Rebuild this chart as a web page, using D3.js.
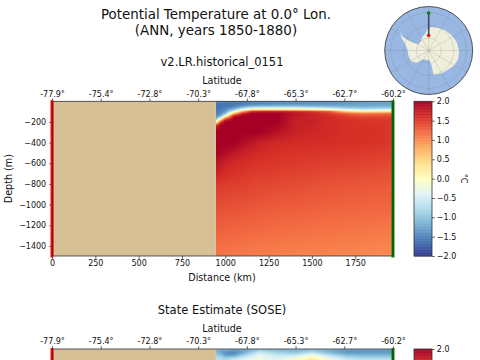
<!DOCTYPE html>
<html>
<head>
<meta charset="utf-8">
<script src="https://cdn.jsdelivr.net/npm/d3@7"></script>
<style>
  html, body { margin: 0; padding: 0; background: #fff; overflow: hidden; }
  svg { display: block; }
  text { font-family: "DejaVu Sans", sans-serif; fill: #111; }
</style>
</head>
<body>
<svg id="chart" width="480" height="360"></svg>
<script>
var latLabels = ['-77.9°', '-75.4°', '-72.8°', '-70.3°', '-67.8°', '-65.3°', '-62.7°', '-60.2°'];
var distTicks = [0, 250, 500, 750, 1000, 1250, 1500, 1750];
var depthTicks = [-200, -400, -600, -800, -1000, -1200, -1400];
var barTicks = [-2, -1.5, -1, -0.5, 0, 0.5, 1, 1.5, 2];
var rdylbuStops = ['#313695', '#4575b4', '#74add1', '#abd9e9', '#e0f3f8', '#ffffbf', '#fee090', '#fdae61', '#f46d43', '#d73027', '#a50026'];
var maxKm = 1968;
var landEdgeKm = 946;
var maxDepth = 1497;

// columns of the temperature tables (km along the section)
var gridKm = [946, 975, 1000, 1050, 1100, 1150, 1200, 1300, 1400, 1500, 1600, 1700, 1800, 1900, 1968];

var modelDepths = [0, 20, 40, 60, 80, 100, 120, 140, 160, 180, 200, 220, 240, 300, 400, 500, 600, 800, 1000, 1200, 1500];
var modelTemp = [
  [-1.2, -1.3, -1.35, -1.4, -1.4, -1.3, -1.25, -1.25, -1.25, -1.25, -1.25, -1.25, -1.25, -1.2, -1.2],
  [-1.6, -1.6, -1.6, -1.6, -1.55, -1.5, -1.5, -1.45, -1.45, -1.4, -1.4, -1.35, -1.3, -1.3, -1.3],
  [-1.6, -1.6, -1.6, -1.55, -1.45, -1.3, -1.25, -1.2, -1.2, -1.25, -1.25, -1.25, -1.25, -1.2, -1.2],
  [-1.6, -1.6, -1.55, -1.4, -1.0, -0.7, -0.6, -0.55, -0.6, -0.7, -0.8, -1.0, -1.05, -1.0, -1.0],
  [-1.6, -1.55, -1.45, -1.0, -0.3, 0.3, 0.35, 0.35, 0.3, 0.2, 0, -0.4, -0.6, -0.5, -0.45],
  [-1.55, -1.5, -1.3, -0.3, 0.9, 1.6, 1.75, 1.75, 1.7, 1.55, 1.35, 0.6, 0.3, 0.4, 0.45],
  [-1.5, -1.4, -1.05, 0.8, 1.7, 2, 2, 2, 1.8, 1.7, 1.55, 1.3, 1.15, 1.2, 1.2],
  [-1.45, -1.2, -0.1, 1.7, 2, 2, 2, 2, 1.8, 1.72, 1.6, 1.5, 1.35, 1.4, 1.4],
  [-1.3, -0.4, 0.9, 2, 2, 2, 2, 2, 1.78, 1.72, 1.65, 1.55, 1.5, 1.5, 1.5],
  [-0.9, 0.7, 1.7, 2, 2, 2, 2, 2, 1.76, 1.72, 1.65, 1.6, 1.55, 1.55, 1.55],
  [-0.1, 1.5, 2, 2, 2, 2, 2, 2, 1.75, 1.72, 1.65, 1.6, 1.58, 1.57, 1.55],
  [1.0, 1.9, 2, 2, 2, 2, 2, 1.98, 1.75, 1.72, 1.65, 1.6, 1.58, 1.57, 1.55],
  [1.7, 2, 2, 2, 2, 2, 2, 1.95, 1.75, 1.7, 1.65, 1.6, 1.6, 1.58, 1.55],
  [2, 2, 2, 2, 2, 2, 2, 1.85, 1.72, 1.68, 1.65, 1.6, 1.6, 1.6, 1.55],
  [2, 2, 2, 2, 1.92, 1.82, 1.72, 1.66, 1.64, 1.63, 1.62, 1.6, 1.6, 1.58, 1.55],
  [2, 1.95, 1.9, 1.8, 1.72, 1.68, 1.65, 1.6, 1.58, 1.57, 1.56, 1.55, 1.53, 1.52, 1.5],
  [1.85, 1.78, 1.72, 1.66, 1.62, 1.6, 1.58, 1.56, 1.54, 1.52, 1.5, 1.49, 1.47, 1.46, 1.45],
  [1.55, 1.54, 1.53, 1.51, 1.5, 1.48, 1.46, 1.44, 1.42, 1.4, 1.38, 1.36, 1.35, 1.34, 1.32],
  [1.42, 1.41, 1.4, 1.39, 1.38, 1.37, 1.35, 1.33, 1.32, 1.3, 1.29, 1.28, 1.27, 1.26, 1.25],
  [1.3, 1.3, 1.29, 1.28, 1.27, 1.26, 1.25, 1.23, 1.22, 1.2, 1.19, 1.18, 1.17, 1.16, 1.15],
  [1.14, 1.14, 1.13, 1.12, 1.11, 1.1, 1.09, 1.08, 1.07, 1.06, 1.05, 1.04, 1.03, 1.01, 1.0]
];

var soseDepths = [0, 20, 40, 60, 80, 100, 120];
var soseTemp = [
  [-1.0, -1.0, -1.0, -1.1, -1.1, -1.0, -1.0, -1.0, -1.0, -1.0, -1.0, -1.1, -1.1, -1.1, -1.1],
  [-1.1, -1.3, -1.3, -1.4, -1.3, -1.1, -0.8, -1.0, -1.1, -0.9, -1.2, -1.4, -1.4, -1.4, -1.4],
  [-1.0, -1.2, -1.4, -1.5, -1.2, -0.8, -0.5, -0.8, -0.9, -0.6, -1.0, -1.3, -1.3, -1.3, -1.3],
  [-0.9, -1.0, -1.3, -1.3, -0.9, -0.6, -0.3, -0.6, -0.6, -0.2, -0.7, -1.05, -1.1, -1.1, -1.1],
  [-0.8, -0.8, -1.0, -0.9, -0.6, -0.4, -0.2, -0.5, -0.3, 0.1, -0.4, -0.8, -0.9, -0.9, -0.9],
  [-0.7, -0.7, -0.8, -0.6, -0.4, -0.3, -0.2, -0.4, -0.1, 0.25, -0.2, -0.6, -0.7, -0.7, -0.7],
  [-0.6, -0.6, -0.7, -0.5, -0.3, -0.2, -0.1, -0.3, 0, 0.4, -0.1, -0.5, -0.6, -0.6, -0.6]
];

// coastline, [lon, lat]
var coast = [
  [-57.5, -62.7], [-62.2, -67], [-63.8, -71.7], [-63.4, -76.1], [-57.8, -80.1], [-39.9, -80.3],
  [-27.7, -77.8], [-12.5, -76.3], [-3.6, -72.9], [5.7, -71], [23, -70.1], [39, -69.1],
  [56.6, -67.9], [73.1, -66.6], [90, -65.7], [105.4, -65.4], [120, -66.2], [133.8, -68.1],
  [150.7, -68.7], [169, -70.2], [168.6, -77.7], [178, -82], [-148.9, -81.6], [-135.4, -76.2],
  [-121.5, -73.3], [-103.4, -73.1], [-86.9, -72.8], [-73.9, -70.2], [-65.2, -66.1]
];
var sectionLons = [0, 0];
var sectionLats = [-77.9, -60.2];

var LEFT = 52, RIGHT = 393, PLOT_H = 154.7, PAGE_H = 360;
var BAR_LEFT = 414, BAR_RIGHT = 432;

var svg = d3.select('#chart');

var color = d3.scaleLinear()
    .domain(d3.range(rdylbuStops.length).map(function (i) { return -2 + 0.4 * i; }))
    .range(rdylbuStops)
    .clamp(true);

var xScale = d3.scaleLinear().domain([0, maxKm]).range([LEFT, RIGHT]);
var latScale = d3.scalePoint().domain(latLabels).range([LEFT, RIGHT]);

// smooth shading between table cells, like a gouraud pcolormesh
var shadeGrid = function (km, depths, temp, y) {
    var canvas = document.createElement('canvas');
    var x0 = Math.round(xScale(landEdgeKm));
    var y0 = Math.round(y.range()[1]);
    var w = Math.round(xScale(maxKm)) - x0;
    var h = Math.round(y.range()[0]) - y0;
    canvas.width = w;
    canvas.height = h;
    var ctx = canvas.getContext('2d');
    var img = ctx.createImageData(w, h);
    var bisect = d3.bisector(function (d) { return d; }).right;
    for (var j = 0; j < h; j++) {
        var d = Math.min(-y.invert(y0 + j + 0.5), depths[depths.length - 1]);
        var r = Math.max(0, Math.min(bisect(depths, d) - 1, depths.length - 2));
        var tr = (d - depths[r]) / (depths[r + 1] - depths[r]);
        for (var i = 0; i < w; i++) {
            var k = Math.max(km[0], xScale.invert(x0 + i + 0.5));
            var c = Math.max(0, Math.min(bisect(km, k) - 1, km.length - 2));
            var tc = (k - km[c]) / (km[c + 1] - km[c]);
            var top = temp[r][c] * (1 - tc) + temp[r][c + 1] * tc;
            var bot = temp[r + 1][c] * (1 - tc) + temp[r + 1][c + 1] * tc;
            var rgb = d3.rgb(color(top * (1 - tr) + bot * tr));
            var p = (j * w + i) * 4;
            img.data[p] = rgb.r;
            img.data[p + 1] = rgb.g;
            img.data[p + 2] = rgb.b;
            img.data[p + 3] = 255;
        }
    }
    ctx.putImageData(img, 0, 0);
    return { href: canvas.toDataURL(), x: x0, y: y0, w: w, h: h };
};

var styleAxis = function (g) {
    g.select('.domain').remove();
    g.selectAll('line').attr('stroke', '#222').attr('stroke-width', 0.7);
    g.selectAll('text').attr('font-size', 8).attr('fill', '#111');
};

var drawPanel = function (top, title, depths, temp) {
    var bottom = top + PLOT_H;
    var yScale = d3.scaleLinear().domain([-maxDepth, 0]).range([bottom, top]);
    var barScale = d3.scaleLinear().domain([-2, 2]).range([bottom, top]);
    // the second panel runs off the page, so only keep what lands on it
    var fits = bottom < PAGE_H;
    var onPage = function (scale) {
        return function (v) { return scale(v) < PAGE_H - 4; };
    };
    var g = svg.append('g');

    g.append('text').attr('x', 222).attr('y', top - 35.5).attr('text-anchor', 'middle')
        .attr('font-size', 11.5).text(title);
    g.append('text').attr('x', 222).attr('y', top - 17.5).attr('text-anchor', 'middle')
        .attr('font-size', 9.6).text('Latitude');

    g.append('rect').attr('x', LEFT).attr('y', top)
        .attr('width', xScale(landEdgeKm) - LEFT).attr('height', PLOT_H)
        .attr('fill', '#d7bf96');

    var im = shadeGrid(gridKm, depths, temp, yScale);
    g.append('image').attr('href', im.href).attr('x', im.x).attr('y', im.y)
        .attr('width', im.w).attr('height', im.h);

    g.append('g').attr('transform', 'translate(0,' + top + ')')
        .call(d3.axisTop(latScale).tickSize(2.8).tickPadding(2))
        .call(styleAxis);
    g.append('g').attr('transform', 'translate(' + LEFT + ',0)')
        .call(d3.axisLeft(yScale).tickValues(depthTicks.filter(onPage(yScale))).tickFormat(d3.format('d')).tickSize(2.8).tickPadding(3))
        .call(styleAxis);

    if (fits) {
        g.append('g').attr('transform', 'translate(0,' + bottom + ')')
            .call(d3.axisBottom(xScale).tickValues(distTicks).tickFormat(d3.format('d')).tickSize(2.8).tickPadding(2))
            .call(styleAxis);
        g.append('text').attr('x', 222).attr('y', bottom + 25).attr('text-anchor', 'middle')
            .attr('font-size', 9.6).text('Distance (km)');
        g.append('text').attr('transform', 'translate(12,' + (top + PLOT_H / 2) + ') rotate(-90)')
            .attr('text-anchor', 'middle').attr('font-size', 9.6).text('Depth (m)');
        g.append('text').attr('transform', 'translate(461,' + (top + PLOT_H / 2) + ') rotate(90)')
            .attr('text-anchor', 'middle').attr('font-size', 8).text('°C');
    }

    g.append('rect').attr('x', LEFT).attr('y', top).attr('width', RIGHT - LEFT).attr('height', PLOT_H)
        .attr('fill', 'none').attr('stroke', '#333').attr('stroke-width', 0.8);

    // section end markers, they run a little past the axes
    g.append('line').attr('x1', LEFT).attr('x2', LEFT).attr('y1', top - 1).attr('y2', bottom + 1.5)
        .attr('stroke', '#e00c0c').attr('stroke-width', 3);
    g.append('line').attr('x1', RIGHT).attr('x2', RIGHT).attr('y1', top - 1).attr('y2', bottom + 1.5)
        .attr('stroke', '#0a7a0a').attr('stroke-width', 3);
    g.append('line').attr('x1', LEFT + 0.7).attr('x2', LEFT + 0.7).attr('y1', top).attr('y2', bottom)
        .attr('stroke', '#7a0606').attr('stroke-width', 0.8);
    g.append('line').attr('x1', RIGHT).attr('x2', RIGHT).attr('y1', top).attr('y2', bottom)
        .attr('stroke', '#043a04').attr('stroke-width', 0.8);

    // colorbar
    var steps = d3.range(0, 256);
    g.append('g').selectAll('rect').data(steps).enter().append('rect')
        .attr('x', BAR_LEFT)
        .attr('width', BAR_RIGHT - BAR_LEFT)
        .attr('y', function (d) { return barScale(-2 + (d + 1) * 4 / 256); })
        .attr('height', PLOT_H / 256 + 0.4)
        .attr('fill', function (d) { return color(-2 + (d + 0.5) * 4 / 256); });
    g.append('g').attr('transform', 'translate(' + BAR_RIGHT + ',0)')
        .call(d3.axisRight(barScale).tickValues(barTicks.filter(onPage(barScale))).tickFormat(d3.format('.1f')).tickSize(2.8).tickPadding(2))
        .call(styleAxis);
    g.append('rect').attr('x', BAR_LEFT).attr('y', top).attr('width', BAR_RIGHT - BAR_LEFT).attr('height', PLOT_H)
        .attr('fill', 'none').attr('stroke', '#333').attr('stroke-width', 0.8);
};

var drawMap = function () {
    var cx = 428.7, cy = 50.5, radius = 44;
    var projection = d3.geoStereographic()
        .rotate([0, 90])
        .scale(141)
        .translate([cx, cy])
        .clipAngle(35);
    var path = d3.geoPath(projection);
    var g = svg.append('g');

    g.append('circle').attr('cx', cx).attr('cy', cy).attr('r', radius).attr('fill', '#98b7e2');
    var land = d3.line().curve(d3.curveLinearClosed);
    g.append('path').attr('d', land(coast.map(function (d) { return projection(d); })))
        .attr('fill', '#efefdc');
    g.append('path')
        .datum(d3.geoGraticule().stepMajor([30, 10]).stepMinor([30, 10])())
        .attr('d', path).attr('fill', 'none').attr('stroke', '#777').attr('stroke-opacity', 0.35).attr('stroke-width', 0.6);
    g.append('circle').attr('cx', cx).attr('cy', cy).attr('r', radius)
        .attr('fill', 'none').attr('stroke', '#444').attr('stroke-width', 0.9);

    var ends = sectionLons.map(function (lon, i) { return [lon, sectionLats[i]]; });
    g.append('path').datum({ type: 'LineString', coordinates: ends }).attr('d', path)
        .attr('fill', 'none').attr('stroke', '#3d4a5c').attr('stroke-width', 1.6);
    var dotColors = ['#f01010', '#0a800a'];
    g.selectAll('.end').data(ends).enter().append('circle').attr('class', 'end')
        .attr('cx', function (d) { return projection(d)[0]; })
        .attr('cy', function (d) { return projection(d)[1]; })
        .attr('r', 1.8)
        .attr('fill', function (d, i) { return dotColors[i]; });
};

var loadChart = function () {
    svg.append('text').attr('x', 216).attr('y', 19).attr('text-anchor', 'middle')
        .attr('font-size', 13.4).text('Potential Temperature at 0.0° Lon.');
    svg.append('text').attr('x', 216).attr('y', 34.5).attr('text-anchor', 'middle')
        .attr('font-size', 13.4).text('(ANN, years 1850-1880)');
    drawPanel(101.3, 'v2.LR.historical_0151', modelDepths, modelTemp);
    drawPanel(349, 'State Estimate (SOSE)', soseDepths, soseTemp);
    drawMap();
};

window.onload = loadChart;
</script>
</body>
</html>
